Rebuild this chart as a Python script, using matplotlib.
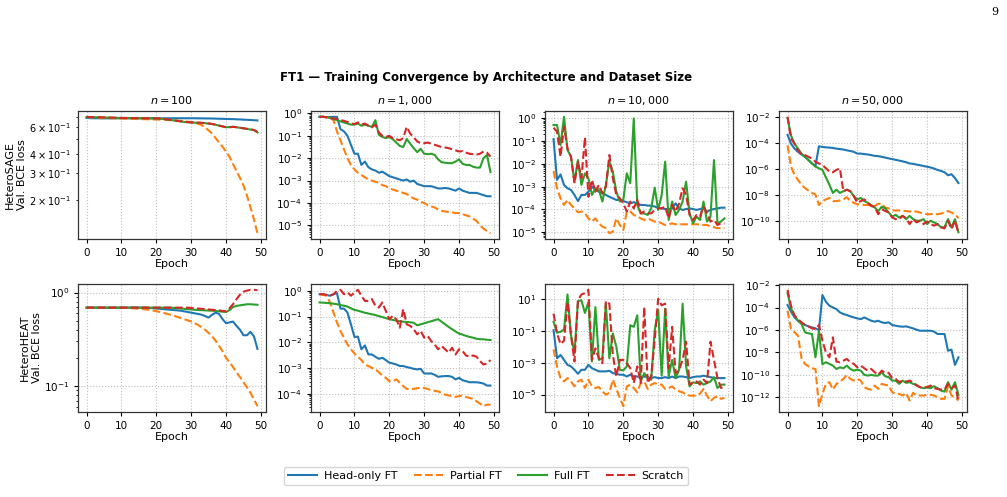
import numpy as np
import matplotlib
matplotlib.use("Agg")
import matplotlib.pyplot as plt

epochs = list(range(50))
methods = ["Head-only FT", "Partial FT", "Full FT", "Scratch"]
colors = ["#1f77b4", "#ff7f0e", "#2ca02c", "#d62728"]
styles = ["-", "--", "-", "--"]
architectures = ["HeteroSAGE", "HeteroHEAT"]
sizes = ["$n = 100$", "$n = 1,000$", "$n = 10,000$", "$n = 50,000$"]

# ---- HeteroSAGE, n=100 (loss values)
sage_100_head = [0.690,0.688,0.687,0.687,0.686,0.686,0.686,0.686,0.686,0.686,
                 0.686,0.686,0.686,0.686,0.686,0.686,0.686,0.686,0.686,0.686,
                 0.686,0.686,0.686,0.687,0.687,0.687,0.687,0.687,0.687,0.687,
                 0.687,0.687,0.686,0.686,0.685,0.685,0.684,0.683,0.682,0.681,
                 0.680,0.679,0.678,0.676,0.675,0.673,0.671,0.669,0.667,0.665]
sage_100_partial = [0.700,0.697,0.694,0.692,0.690,0.689,0.688,0.687,0.686,0.685,
                    0.684,0.683,0.682,0.681,0.680,0.679,0.678,0.677,0.676,0.675,
                    0.674,0.673,0.672,0.670,0.668,0.666,0.664,0.661,0.657,0.652,
                    0.650,0.642,0.632,0.620,0.600,0.572,0.545,0.510,0.478,0.447,
                    0.416,0.385,0.345,0.310,0.280,0.250,0.215,0.180,0.150,0.122]
sage_100_full = [0.700,0.699,0.698,0.697,0.696,0.695,0.694,0.693,0.692,0.691,
                 0.690,0.690,0.689,0.689,0.688,0.688,0.687,0.687,0.686,0.686,
                 0.685,0.683,0.680,0.675,0.670,0.665,0.660,0.655,0.650,0.647,
                 0.645,0.643,0.642,0.640,0.638,0.634,0.630,0.623,0.615,0.607,
                 0.600,0.602,0.605,0.600,0.595,0.590,0.585,0.580,0.575,0.555]
sage_100_scratch = [0.702,0.700,0.699,0.698,0.697,0.696,0.695,0.694,0.693,0.692,
                    0.691,0.690,0.690,0.689,0.689,0.688,0.688,0.687,0.687,0.686,
                    0.686,0.684,0.681,0.676,0.671,0.666,0.661,0.656,0.651,0.648,
                    0.646,0.644,0.643,0.641,0.639,0.635,0.631,0.624,0.616,0.608,
                    0.601,0.600,0.603,0.601,0.596,0.591,0.586,0.581,0.576,0.560]

# ---- HeteroSAGE, n=1,000 (log10 loss)
sage_1k_head = [-0.15,-0.15,-0.16,-0.16,-0.15,-0.15,-0.7,-0.8,-1.0,-1.4,
                -1.8,-1.8,-2.3,-2.15,-2.4,-2.5,-2.55,-2.65,-2.6,-2.7,
                -2.8,-2.85,-2.9,-2.95,-3.0,-2.95,-3.05,-3.0,-3.15,-3.2,
                -3.25,-3.25,-3.25,-3.3,-3.35,-3.35,-3.33,-3.35,-3.4,-3.45,
                -3.35,-3.45,-3.5,-3.55,-3.55,-3.55,-3.6,-3.65,-3.7,-3.7]
sage_1k_partial = [-0.15,-0.15,-0.17,-0.2,-0.3,-0.8,-1.2,-1.6,-2.0,-2.3,
                   -2.5,-2.65,-2.75,-2.85,-2.95,-3.0,-3.05,-3.1,-3.2,-3.25,
                   -3.35,-3.4,-3.45,-3.5,-3.55,-3.6,-3.7,-3.8,-3.85,-3.95,
                   -4.0,-4.1,-4.15,-4.2,-4.3,-4.35,-4.38,-4.4,-4.42,-4.45,
                   -4.45,-4.5,-4.55,-4.6,-4.7,-4.8,-5.0,-5.15,-5.25,-5.35]
sage_1k_full = [-0.15,-0.15,-0.17,-0.2,-0.25,-0.3,-0.35,-0.4,-0.45,-0.5,
                -0.5,-0.45,-0.55,-0.5,-0.55,-0.6,-0.3,-0.95,-1.05,-1.1,
                -1.05,-1.15,-1.3,-1.45,-1.5,-1.14,-1.35,-1.55,-1.73,-1.58,
                -1.8,-1.82,-1.8,-1.85,-2.05,-2.18,-2.2,-2.22,-2.22,-2.15,
                -2.05,-2.25,-2.3,-2.3,-2.38,-2.42,-2.42,-2.0,-1.85,-2.62]
sage_1k_scratch = [-0.15,-0.15,-0.17,-0.2,-0.22,-0.25,-0.3,-0.33,-0.38,-0.45,
                   -0.47,-0.4,-0.5,-0.45,-0.55,-0.62,-0.5,-0.85,-1.0,-1.05,
                   -1.0,-1.1,-1.15,-1.2,-1.1,-0.6,-0.9,-1.07,-1.25,-1.33,
                   -1.33,-1.3,-1.35,-1.4,-1.45,-1.5,-1.52,-1.55,-1.6,-1.65,
                   -1.7,-1.68,-1.75,-1.8,-1.82,-1.84,-1.8,-1.7,-1.75,-1.93]

# ---- HeteroSAGE, n=10,000 (log10 loss)
sage_10k_head = [-0.91,-2.70,-2.46,-2.92,-3.07,-3.14,-3.36,-3.63,-3.36,-3.36,
                 -3.22,-3.0,-3.14,-3.22,-3.29,-3.36,-3.44,-3.51,-3.58,-3.58,
                 -3.63,-3.68,-3.73,-3.68,-3.73,-3.80,-3.80,-3.83,-3.83,-3.87,
                 -3.92,-3.95,-3.98,-3.98,-3.95,-3.73,-3.95,-4.02,-3.98,-3.95,
                 -3.98,-4.02,-3.98,-3.95,-4.09,-4.02,-3.98,-3.95,-3.92,-3.92]
sage_10k_partial = [-2.31,-3.07,-3.51,-3.80,-3.58,-3.80,-3.95,-4.12,-4.09,-4.17,
                    -4.39,-4.53,-4.39,-4.61,-4.75,-4.82,-5.04,-4.97,-4.39,-4.68,
                    -4.90,-4.09,-4.09,-4.24,-4.31,-4.39,-4.46,-4.39,-4.46,-4.53,
                    -4.53,-4.61,-4.68,-4.65,-4.61,-4.65,-4.65,-4.65,-4.65,-4.65,
                    -4.65,-4.65,-4.65,-4.68,-4.68,-4.75,-4.78,-4.82,-4.82,-4.82]
sage_10k_full = [-0.29,-0.29,-1.17,0.07,-1.39,-1.68,-2.78,-1.83,-2.92,-2.41,
                 -2.63,-3.36,-3.07,-3.14,-3.65,-2.92,-1.90,-2.34,-3.22,-3.65,
                 -3.58,-2.41,-2.85,0.0,-3.80,-4.17,-4.17,-4.24,-3.95,-3.04,
                 -4.02,-3.36,-1.90,-4.46,-3.65,-4.24,-4.02,-3.65,-2.78,-4.17,
                 -4.61,-4.31,-4.46,-3.65,-4.53,-4.31,-1.83,-4.61,-4.53,-4.39]
sage_10k_scratch = [-0.41,-0.58,-1.68,-0.37,-1.32,-1.68,-2.85,-1.90,-2.63,-0.83,
                    -3.44,-2.70,-3.22,-2.92,-3.29,-3.0,-1.61,-2.63,-3.36,-3.51,
                    -3.73,-4.09,-3.65,-3.95,-3.58,-4.17,-4.09,-4.17,-4.17,-4.02,
                    -3.95,-3.95,-3.87,-4.39,-3.80,-4.09,-3.73,-3.07,-3.36,-4.24,
                    -4.46,-4.24,-4.31,-3.87,-4.17,-4.53,-4.46,-4.68,-4.61,-4.61]

# ---- HeteroSAGE, n=50,000 (log10 loss)
sage_50k_head = [-3.39,-4.07,-4.45,-4.70,-4.90,-5.08,-5.33,-5.59,-5.79,-4.27,
                 -4.32,-4.35,-4.37,-4.40,-4.45,-4.48,-4.52,-4.58,-4.63,-4.70,
                 -4.83,-4.83,-4.87,-4.90,-4.95,-5.01,-5.03,-5.08,-5.14,-5.20,
                 -5.26,-5.31,-5.37,-5.43,-5.50,-5.59,-5.62,-5.68,-5.73,-5.79,
                 -5.84,-5.90,-5.98,-6.09,-6.17,-6.27,-6.50,-6.42,-6.72,-7.10]
sage_50k_partial = [-4.20,-5.84,-6.47,-6.85,-7.23,-7.48,-7.68,-7.86,-7.98,-8.79,
                    -8.49,-8.36,-8.24,-8.49,-8.49,-8.44,-8.36,-8.19,-8.49,-8.62,
                    -8.74,-8.74,-8.79,-8.79,-8.82,-8.87,-8.70,-8.69,-8.99,-9.05,
                    -9.20,-9.22,-9.20,-9.25,-9.25,-9.30,-9.25,-9.30,-9.37,-9.45,
                    -9.50,-9.50,-9.45,-9.50,-9.45,-9.37,-9.25,-9.37,-9.50,-9.80]
sage_50k_full = [-2.08,-3.44,-4.07,-4.45,-4.83,-5.08,-5.33,-5.59,-5.84,-5.96,
                 -6.09,-6.67,-7.23,-7.86,-7.61,-7.86,-7.73,-7.61,-7.73,-8.11,
                 -8.36,-8.24,-8.49,-8.62,-8.79,-8.99,-9.25,-8.92,-9.05,-9.37,
                 -9.68,-9.55,-9.75,-9.63,-9.88,-9.63,-9.88,-10.0,-10.0,-9.88,
                 -10.26,-10.0,-10.13,-10.26,-10.51,-10.51,-9.88,-10.51,-9.88,-10.89]
sage_50k_scratch = [-2.0,-3.69,-4.07,-4.58,-4.90,-4.95,-5.08,-5.21,-5.46,-5.59,
                    -5.71,-5.96,-6.22,-6.27,-6.09,-5.96,-7.73,-7.61,-7.73,-8.11,
                    -8.62,-8.49,-8.36,-8.62,-8.87,-8.94,-9.50,-9.12,-9.25,-9.37,
                    -9.75,-9.88,-9.88,-9.63,-9.80,-10.26,-9.88,-10.13,-10.0,-10.26,
                    -10.06,-10.26,-10.38,-10.26,-10.51,-10.59,-10.0,-10.64,-10.0,-10.96]

# ---- HeteroHEAT, n=100 (loss values)
heat_100_head = [0.69,0.69,0.69,0.69,0.69,0.69,0.69,0.69,0.69,0.69,
                 0.69,0.69,0.69,0.69,0.69,0.69,0.69,0.69,0.685,0.68,
                 0.675,0.67,0.665,0.66,0.655,0.65,0.645,0.64,0.63,0.62,
                 0.61,0.60,0.59,0.58,0.56,0.54,0.58,0.61,0.59,0.52,
                 0.47,0.48,0.49,0.44,0.40,0.35,0.35,0.38,0.34,0.25]
heat_100_partial = [0.69,0.69,0.69,0.69,0.69,0.69,0.69,0.69,0.69,0.689,
                    0.688,0.686,0.683,0.68,0.676,0.672,0.666,0.66,0.652,0.642,
                    0.632,0.62,0.607,0.594,0.58,0.565,0.55,0.535,0.52,0.505,
                    0.49,0.47,0.45,0.425,0.40,0.37,0.34,0.305,0.27,0.235,
                    0.20,0.18,0.16,0.14,0.125,0.11,0.097,0.085,0.072,0.061]
heat_100_full = [0.69,0.69,0.69,0.69,0.69,0.69,0.69,0.69,0.69,0.69,
                 0.69,0.69,0.69,0.69,0.69,0.69,0.69,0.69,0.69,0.69,
                 0.69,0.69,0.69,0.69,0.69,0.685,0.68,0.675,0.67,0.665,
                 0.66,0.655,0.65,0.648,0.645,0.642,0.64,0.635,0.63,0.625,
                 0.62,0.65,0.70,0.72,0.73,0.74,0.75,0.75,0.745,0.74]
heat_100_scratch = [0.69,0.69,0.69,0.69,0.69,0.69,0.69,0.69,0.69,0.69,
                    0.69,0.69,0.69,0.69,0.69,0.69,0.69,0.69,0.69,0.69,
                    0.69,0.69,0.69,0.69,0.69,0.69,0.69,0.69,0.69,0.69,
                    0.685,0.68,0.675,0.67,0.665,0.66,0.655,0.65,0.645,0.635,
                    0.63,0.68,0.75,0.85,0.95,1.02,1.05,1.07,1.07,1.06]

# ---- HeteroHEAT, n=1,000 (log10 loss)
heat_1k_head = [-0.13,-0.13,-0.16,-0.19,-0.13,-0.09,-0.69,-0.69,-0.84,-1.30,
                -1.79,-1.78,-2.27,-2.12,-2.47,-2.47,-2.56,-2.64,-2.60,-2.69,
                -2.79,-2.82,-2.86,-2.92,-2.92,-2.96,-2.99,-3.03,-3.05,-3.03,
                -3.21,-3.21,-3.21,-3.26,-3.34,-3.32,-3.31,-3.31,-3.34,-3.44,
                -3.38,-3.47,-3.51,-3.55,-3.55,-3.55,-3.57,-3.60,-3.68,-3.68]
heat_1k_partial = [-0.13,-0.16,-0.19,-0.45,-0.84,-1.23,-1.56,-1.82,-2.08,-2.27,
                   -2.43,-2.56,-2.69,-2.86,-2.92,-2.99,-3.05,-3.16,-3.29,-3.38,
                   -3.51,-3.51,-3.44,-3.57,-3.70,-3.81,-3.81,-3.81,-3.78,-3.77,
                   -3.77,-3.81,-3.86,-3.88,-3.91,-3.96,-4.03,-4.06,-4.09,-4.12,
                   -4.09,-4.06,-4.12,-4.16,-4.19,-4.29,-4.38,-4.48,-4.42,-4.42]
heat_1k_full = [-0.45,-0.46,-0.47,-0.48,-0.50,-0.52,-0.55,-0.58,-0.61,-0.68,
                -0.74,-0.77,-0.81,-0.85,-0.88,-0.91,-0.94,-0.98,-1.02,-1.06,
                -1.10,-1.13,-1.16,-1.18,-1.20,-1.21,-1.22,-1.24,-1.34,-1.30,
                -1.26,-1.22,-1.18,-1.14,-1.10,-1.20,-1.30,-1.40,-1.49,-1.58,
                -1.66,-1.70,-1.75,-1.79,-1.82,-1.86,-1.88,-1.88,-1.90,-1.91]
heat_1k_scratch = [-0.13,-0.13,-0.16,-0.19,-0.13,0.0,0.04,-0.13,-0.06,-0.19,
                   -0.06,0.04,-0.19,-0.39,-0.39,-0.32,-0.58,-0.65,-0.45,-0.78,
                   -1.10,-0.97,-1.10,-1.43,-0.71,-1.30,-1.36,-1.49,-1.69,-1.56,
                   -1.82,-1.75,-1.95,-2.08,-2.27,-2.14,-2.27,-2.40,-2.21,-2.47,
                   -2.27,-2.34,-2.51,-2.56,-2.51,-2.56,-2.73,-2.86,-2.82,-2.69]

# ---- HeteroHEAT, n=10,000 (log10 loss)
heat_10k_head = [-0.97,-2.73,-2.52,-2.83,-3.14,-3.24,-3.45,-3.70,-3.45,-3.45,
                 -3.14,-3.35,-3.45,-3.55,-3.55,-3.55,-3.51,-3.66,-3.70,-3.76,
                 -3.76,-3.87,-3.76,-3.87,-3.87,-3.91,-3.87,-3.91,-3.97,-3.91,
                 -3.97,-3.97,-3.91,-3.97,-3.87,-3.97,-3.87,-3.87,-3.91,-3.97,
                 -3.91,-3.87,-3.87,-3.82,-3.87,-3.91,-3.97,-3.97,-3.97,-3.97]
heat_10k_partial = [-2.17,-3.24,-3.97,-4.18,-3.97,-4.18,-4.49,-4.18,-4.07,-4.59,
                    -4.07,-4.49,-4.59,-4.53,-4.80,-5.0,-4.90,-4.07,-4.65,-5.21,
                    -5.73,-4.49,-4.38,-4.59,-4.86,-4.28,-4.18,-4.65,-4.38,-4.28,
                    -4.38,-4.38,-4.65,-4.59,-4.49,-4.69,-4.80,-4.86,-5.0,-5.07,
                    -5.07,-5.07,-4.94,-4.65,-5.07,-5.42,-5.21,-5.11,-5.27,-5.21]
heat_10k_full = [-0.45,-1.13,-1.07,-0.93,1.27,-1.28,-2.42,0.86,0.90,0.11,
                 0.79,-2.93,0.48,-2.83,-2.73,0.69,-2.73,-1.17,-2.0,-3.45,
                 -3.49,-3.24,-0.66,-0.76,-0.04,-4.18,-3.66,-3.97,-4.07,-0.97,
                 0.28,-3.82,0.38,-3.87,-2.83,-3.97,-3.45,0.69,-3.24,-4.49,
                 -4.24,-4.28,-4.18,-4.38,-4.28,-4.18,-3.91,-4.59,-4.38,-4.38]
heat_10k_scratch = [0.07,-1.17,-1.84,-1.63,0.79,-1.28,-2.93,0.90,1.27,1.35,
                    1.56,-2.83,-2.11,-2.73,-3.04,0.86,0.69,-2.52,-3.87,-2.83,
                    -2.83,-3.04,-3.35,-4.28,-3.24,-4.28,0.48,-4.28,-3.87,-1.59,
                    1.0,0.59,0.69,-3.35,-0.76,-3.66,-3.45,-2.83,-1.69,-4.38,
                    -4.24,-4.18,-4.38,-4.07,-4.28,-1.69,-2.83,-3.97,-4.59,-4.49]

# ---- HeteroHEAT, n=50,000 (log10 loss)
heat_50k_head = [-3.78,-4.37,-4.88,-5.18,-5.38,-5.56,-5.68,-5.77,-5.86,-6.01,
                 -2.89,-3.48,-3.84,-3.99,-4.14,-4.43,-4.58,-4.67,-4.79,-4.88,
                 -4.97,-5.03,-4.88,-5.03,-5.18,-5.26,-5.18,-5.32,-5.38,-5.32,
                 -5.56,-5.62,-5.68,-5.71,-5.68,-5.77,-5.86,-5.98,-6.07,-6.07,
                 -6.07,-6.07,-6.15,-6.36,-6.36,-6.36,-7.85,-7.76,-9.12,-8.44]
heat_50k_partial = [-4.28,-5.92,-6.21,-6.51,-8.53,-9.03,-9.24,-9.42,-9.48,-12.80,
                    -11.70,-10.81,-10.66,-11.32,-10.81,-10.61,-10.37,-10.01,-10.37,-10.52,
                    -10.37,-10.52,-11.11,-11.26,-11.32,-10.96,-11.26,-10.81,-10.90,-10.96,
                    -11.55,-11.70,-11.70,-11.85,-11.61,-12.30,-11.61,-11.85,-11.85,-11.85,
                    -11.79,-11.79,-11.85,-12.0,-12.15,-12.15,-11.02,-11.85,-12.0,-12.30]
heat_50k_full = [-2.71,-4.08,-4.73,-5.18,-5.47,-6.21,-6.30,-6.36,-8.44,-6.07,
                 -9.06,-8.88,-9.03,-9.18,-9.48,-9.33,-9.42,-9.18,-9.48,-9.63,
                 -9.54,-9.63,-10.01,-10.07,-10.01,-10.07,-10.07,-9.77,-10.13,-10.22,
                 -10.52,-10.52,-10.81,-10.52,-10.72,-10.66,-10.81,-10.90,-11.11,-11.20,
                 -11.11,-11.20,-11.02,-11.20,-11.41,-11.50,-10.66,-11.32,-10.66,-11.79]
heat_50k_scratch = [-2.42,-3.84,-4.73,-5.03,-5.32,-5.56,-5.68,-5.86,-5.92,-5.56,
                    -6.96,-8.0,-8.44,-6.66,-8.82,-8.88,-8.74,-8.59,-8.88,-9.03,
                    -9.33,-9.18,-9.42,-9.63,-9.48,-9.77,-10.01,-9.63,-9.83,-9.83,
                    -10.31,-10.37,-10.66,-10.52,-10.61,-10.52,-10.66,-10.96,-11.11,-11.11,
                    -11.11,-10.96,-11.20,-11.26,-11.32,-11.32,-10.81,-11.20,-10.96,-12.30]


def lin(*series):
    return [np.asarray(s, dtype=float) for s in series]


def unlog(*series):
    return [10.0 ** np.asarray(s, dtype=float) for s in series]


panels = [
    [lin(sage_100_head, sage_100_partial, sage_100_full, sage_100_scratch),
     unlog(sage_1k_head, sage_1k_partial, sage_1k_full, sage_1k_scratch),
     unlog(sage_10k_head, sage_10k_partial, sage_10k_full, sage_10k_scratch),
     unlog(sage_50k_head, sage_50k_partial, sage_50k_full, sage_50k_scratch)],
    [lin(heat_100_head, heat_100_partial, heat_100_full, heat_100_scratch),
     unlog(heat_1k_head, heat_1k_partial, heat_1k_full, heat_1k_scratch),
     unlog(heat_10k_head, heat_10k_partial, heat_10k_full, heat_10k_scratch),
     unlog(heat_50k_head, heat_50k_partial, heat_50k_full, heat_50k_scratch)],
]

W, H = 1007, 497
fig = plt.figure(figsize=(W / 100, H / 100), dpi=100)
plt.rcParams["font.family"] = ["DejaVu Sans"]

lefts = [78, 311, 545, 779]
tops = [111, 284]
aw, ah = 188, 128

handles = []
for r in range(2):
    for c in range(4):
        ax = fig.add_axes([lefts[c] / W, 1 - (tops[r] + ah) / H, aw / W, ah / H])
        for k in range(4):
            ln, = ax.plot(epochs, panels[r][c][k], color=colors[k], ls=styles[k],
                          lw=1.5, label=methods[k])
            if r == 0 and c == 0:
                handles.append(ln)
        ax.set_yscale("log")
        ax.set_xticks([0, 10, 20, 30, 40, 50])
        ax.set_xlim(-2.45, 51.45)
        ax.grid(True, which="major", ls=":", lw=0.8, color="#b0b0b0", alpha=0.8)
        ax.tick_params(which="major", labelsize=7.5, length=3, width=0.8)
        ax.tick_params(which="minor", labelsize=7, length=1.8, width=0.6)
        ax.set_xlabel("Epoch", fontsize=8, labelpad=1)
        for s in ax.spines.values():
            s.set_color("#333333")
            s.set_linewidth(0.9)
        if r == 0:
            ax.set_title(sizes[c], fontsize=8, pad=5)
        if c == 0:
            ax.set_ylabel(architectures[r] + "\nVal. BCE loss", fontsize=8, labelpad=1.5)

fig.text(486 / W, 1 - 77 / H, "FT1 — Training Convergence by Architecture and Dataset Size",
         ha="center", va="center", fontsize=8.5, fontweight="bold")
fig.text(995 / W, 1 - 12 / H, "9", ha="center", va="center", fontsize=8,
         family="DejaVu Serif")

fig.legend(handles, methods, loc="center", bbox_to_anchor=(486 / W, 1 - 476 / H),
           ncol=4, fontsize=8, frameon=True, handlelength=2.6, columnspacing=1.5,
           handletextpad=0.6, edgecolor="#cccccc")

fig.savefig("out.png", dpi=100)
